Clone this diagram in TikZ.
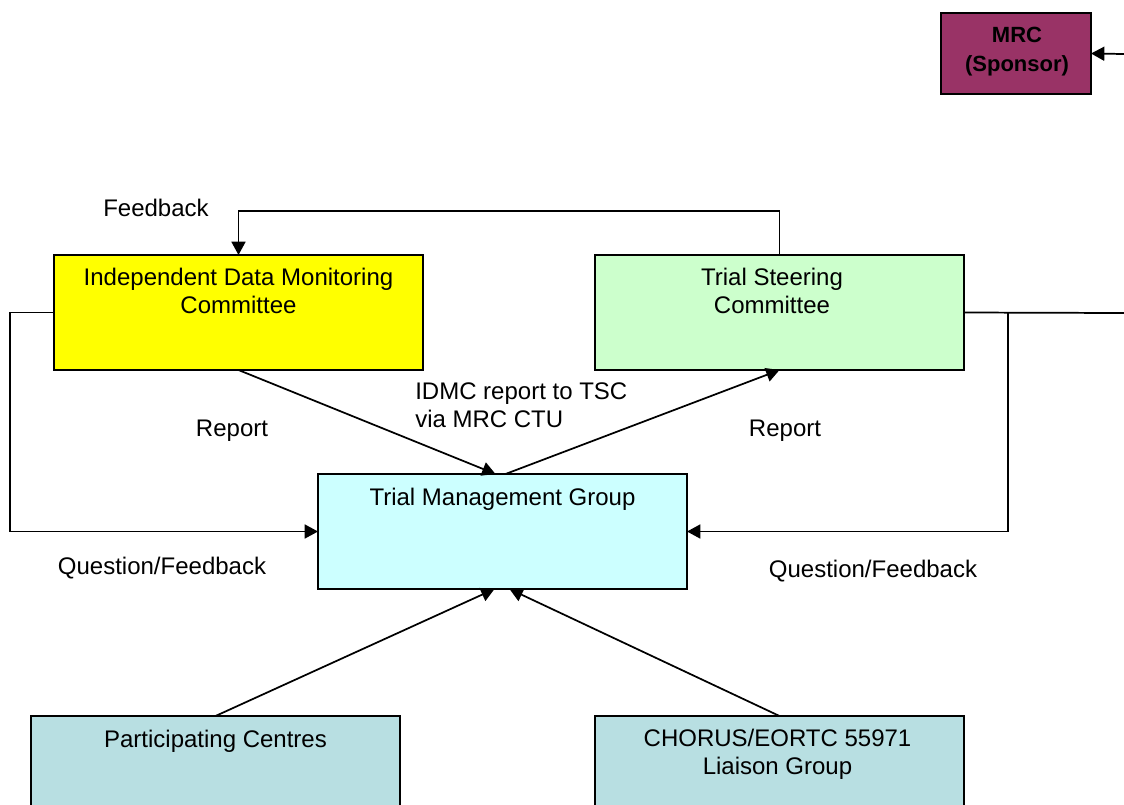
\documentclass[tikz,border=0pt]{standalone}
\usepackage{fontspec}
\setmainfont{Liberation Sans}
\usetikzlibrary{arrows.meta,calc}
\definecolor{idmcfill}{HTML}{FFFF00}
\definecolor{tscfill}{HTML}{CCFFCC}
\definecolor{tmgfill}{HTML}{CCFFFF}
\definecolor{lowfill}{HTML}{B8DFE2}
\definecolor{mrcfill}{HTML}{993366}
\begin{document}
\begin{tikzpicture}[x=0.75pt,y=-0.75pt,
  box/.style={draw=black, line width=1.3pt, rectangle, inner sep=0pt, outer sep=0pt, anchor=north west},
  wide/.style={box, minimum width=276.75pt, minimum height=86.25pt},
  lbl/.style={font=\fontsize{18}{21}\selectfont, inner sep=0pt, align=center},
  lblleft/.style={font=\fontsize{18}{21}\selectfont, inner sep=0pt, align=left},
  conn/.style={line width=1.3pt},
  arr/.style={conn, -{Triangle[length=10pt,width=10.5pt]}}]
  \clip (0,0) rectangle (1124,804);
  \useasboundingbox (0,0) rectangle (1124,804);

  % boxes
  \node[box, fill=mrcfill, minimum width=112.5pt, minimum height=60.75pt] (mrc) at (941,13) {};
  \node[wide, fill=idmcfill] (idmc) at (54,255) {};
  \node[wide, fill=tscfill] (tsc) at (595,255) {};
  \node[wide, fill=tmgfill] (tmg) at (318,474) {};
  \node[box, fill=lowfill, minimum width=276.75pt, minimum height=90pt] (pc) at (31,716) {};
  \node[box, fill=lowfill, minimum width=276.75pt, minimum height=90pt] (chorus) at (595,716) {};

  % box texts
  \node[inner sep=0pt, align=center, font=\fontsize{16.5}{21.75}\selectfont\bfseries, anchor=north] (mrct) at (1017,27) {MRC\\(Sponsor)};
  \node[lbl, anchor=north] (idmct) at (238.5,268) {Independent Data Monitoring\\Committee};
  \node[lbl, anchor=north] (tsct) at (772,268) {Trial Steering\\Committee};
  \node[lbl, anchor=base] (tmgt) at (502.5,505) {Trial Management Group};
  \node[lbl, anchor=base] (pct) at (215.5,747) {Participating Centres};
  \node[lbl, anchor=north] (chorust) at (777.5,729) {CHORUS/EORTC 55971\\Liaison Group};

  % connector labels
  \node[lbl, anchor=base] (fb) at (156,216) {Feedback};
  \node[lbl, anchor=base] (rep1) at (232,436) {Report};
  \node[lbl, anchor=base] (rep2) at (785,436) {Report};
  \node[lblleft, anchor=north west] (via) at (415,382) {IDMC report to TSC\\via MRC CTU};
  \node[lbl, anchor=base] (qf1) at (162,574) {Question/Feedback};
  \node[lbl, anchor=base] (qf2) at (873,577) {Question/Feedback};

  % free ends of the sponsor link
  \coordinate (sponsorout) at (1124,313);
  \coordinate (sponsorin) at (1124,54);

  % connectors
  \draw[arr] (tsc.north) -- ++(0,-44) -| (idmc.north);
  \draw[arr] (idmc.west) -- ++(-44,0) |- (tmg.west);
  \draw[conn] (tsc.east) -- (sponsorout);
  \draw[arr] (tsc.east) ++(44,0) |- (tmg.east);
  \draw[arr] (sponsorin) -- (mrc.east);
  \draw[arr] (idmc.south) -- ($(tmg.north)+(-7,0)$);
  \draw[arr] ($(tmg.north)+(3,0)$) -- (tsc.south);
  \draw[arr] (pc.north) -- ($(tmg.south)+(-8,0)$);
  \draw[arr] (chorus.north) -- ($(tmg.south)+(7,0)$);
\end{tikzpicture}
\end{document}
